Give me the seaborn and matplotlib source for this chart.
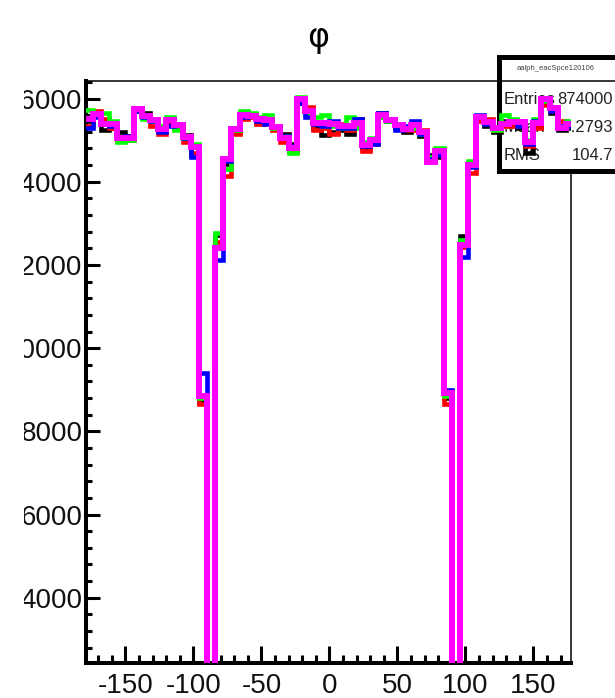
import numpy as np
import pandas as pd
import matplotlib
matplotlib.use("Agg")
import matplotlib.pyplot as plt
import seaborn as sns
from matplotlib.ticker import MultipleLocator, FixedLocator, FormatStrFormatter
from matplotlib.patches import Rectangle
from matplotlib.lines import Line2D

# phi binning: 60 bins of 6 degrees over the full circle
bin_edges = list(range(-180, 181, 6))
bin_centers = [e + 3 for e in bin_edges[:-1]]

counts_black = [
    15450, 15600, 15250, 15300, 15200, 15100, 15780, 15650, 15500, 15300,
    15420, 15300, 15120, 14650, 8700, 0, 12720, 14420, 15200, 15650,
    15620, 15500, 15450, 15350, 15150, 14900, 15900, 15750, 15300, 15120,
    15200, 15250, 15150, 15500, 14800, 14950, 15650, 15450, 15300, 15200,
    15300, 15100, 14650, 14600, 8800, 0, 12700, 14450, 15500, 15350,
    15200, 15450, 15400, 15300, 14700, 15350, 15900, 15650, 15250, 15300,
]
counts_red = [
    15350, 15700, 15500, 15300, 15000, 15000, 15700, 15600, 15350, 15150,
    15450, 15400, 14950, 14700, 8650, 0, 12550, 14150, 15150, 15500,
    15550, 15400, 15500, 15250, 14950, 14750, 15950, 15800, 15250, 15300,
    15150, 15400, 15250, 15350, 14750, 14900, 15550, 15500, 15350, 15250,
    15250, 15250, 14550, 14700, 8650, 0, 12420, 14220, 15450, 15500,
    15250, 15350, 15350, 15400, 14850, 15300, 15850, 15700, 15450, 15350,
]
counts_green = [
    15720, 15650, 15650, 15450, 14950, 15000, 15700, 15520, 15450, 15350,
    15550, 15250, 15050, 14900, 8800, 0, 12780, 14300, 15250, 15700,
    15650, 15550, 15600, 15300, 15100, 14700, 16050, 15650, 15550, 15600,
    15350, 15300, 15550, 15300, 14950, 15050, 15550, 15450, 15400, 15300,
    15300, 15150, 14600, 14800, 8850, 0, 12600, 14500, 15550, 15450,
    15250, 15600, 15500, 15450, 15000, 15500, 15950, 15750, 15300, 15450,
]
counts_blue = [
    15300, 15550, 15400, 15350, 15050, 15100, 15700, 15550, 15450, 15200,
    15350, 15400, 15050, 14600, 9400, 0, 12120, 14500, 15300, 15550,
    15600, 15450, 15400, 15350, 15100, 14850, 15900, 15550, 15400, 15350,
    15450, 15300, 15300, 15500, 14850, 14900, 15650, 15500, 15250, 15350,
    15450, 15150, 14550, 14650, 9000, 0, 12200, 14350, 15600, 15400,
    15300, 15400, 15450, 15350, 14900, 15450, 16000, 15700, 15350, 15350,
]
counts_magenta = [
    15520, 15640, 15380, 15380, 15050, 15050, 15740, 15590, 15480, 15280,
    15480, 15360, 15080, 14840, 8850, 0, 12400, 14550, 15280, 15600,
    15580, 15520, 15480, 15320, 15060, 14820, 16000, 15700, 15420, 15420,
    15380, 15340, 15340, 15420, 14880, 15000, 15600, 15480, 15360, 15260,
    15360, 15200, 14480, 14740, 8920, 0, 12480, 14400, 15560, 15440,
    15290, 15400, 15440, 15440, 14950, 15420, 16000, 15770, 15300, 15400,
]

x_ticks = [-150, -100, -50, 0, 50, 100, 150]
y_ticks = [4000, 6000, 8000, 10000, 12000, 14000, 16000]

stats_title = "aalph_eacSpce120106"
stats_rows = [("Entries", "874000"), ("Mean", "-0.2793"), ("RMS", "104.7")]

sns.set_theme(style="white")
plt.rcParams["font.family"] = ["Liberation Sans", "DejaVu Sans"]
plt.rcParams["axes.unicode_minus"] = False

W, H = 615, 698
fig = plt.figure(figsize=(W / 100, H / 100), dpi=100)
fig.patch.set_facecolor("white")

ax_l, ax_r, ax_t, ax_b = 86, 570.7, 80.7, 663
ax = fig.add_axes([ax_l / W, 1 - ax_b / H, (ax_r - ax_l) / W, (ax_b - ax_t) / H])
ax.set_facecolor("white")

series = [
    (counts_black, "#000000", 3.3, 4),
    (counts_red, "#ff0000", 3.3, 5),
    (counts_green, "#00ff00", 3.3, 6),
    (counts_blue, "#0000ff", 3.3, 7),
    (counts_magenta, "#ff00ff", 4.3, 8),
]
for counts, color, lw, z in series:
    frame = pd.DataFrame({"phi": bin_centers, "entries": counts})
    sns.histplot(
        data=frame, x="phi", weights="entries", bins=bin_edges,
        element="step", fill=False, color=color, linewidth=lw,
        ax=ax, zorder=z, solid_joinstyle="miter",
    )

ax.set_xlim(-179, 177.5)
ax.set_ylim(2430, 16430)
ax.set_xlabel("")
ax.set_ylabel("")

# axis frame: heavy left/bottom axes, thin top/right frame
for side in ("left", "bottom"):
    ax.spines[side].set_linewidth(2.9)
    ax.spines[side].set_color("black")
for side in ("top", "right"):
    ax.spines[side].set_linewidth(1.1)
    ax.spines[side].set_color("black")

ax.xaxis.set_major_locator(FixedLocator(x_ticks))
ax.xaxis.set_minor_locator(MultipleLocator(10))
ax.yaxis.set_major_locator(FixedLocator(y_ticks))
ax.yaxis.set_minor_locator(MultipleLocator(400))
ax.xaxis.set_major_formatter(FormatStrFormatter("%d"))
ax.yaxis.set_major_formatter(FormatStrFormatter("%d"))

ax.tick_params(which="both", bottom=True, left=True, top=False, right=False)
ax.tick_params(axis="x", which="major", direction="in", length=12.5, width=2.2,
               labelsize=20, pad=7, color="black", labelcolor="#111111")
ax.tick_params(axis="x", which="minor", direction="in", length=6, width=2.2, color="black")
ax.tick_params(axis="y", which="major", direction="in", length=10, width=2.2,
               labelsize=20, pad=2.5, color="black", labelcolor="#111111")
ax.tick_params(axis="y", which="minor", direction="in", length=4.5, width=2.2, color="black")
ax.grid(False)

# statistics box (drawn under the histogram lines)
bx_l, bx_r, bx_t, bx_b = 499, 625, 57, 171
box = Rectangle((bx_l / W, 1 - bx_b / H), (bx_r - bx_l) / W, (bx_b - bx_t) / H,
                transform=fig.transFigure, facecolor="white", edgecolor="black",
                linewidth=3.6, zorder=3)
ax.add_artist(box)
box.set_clip_on(False)
sep = Line2D([bx_l / W, bx_r / W], [1 - 80.7 / H] * 2, transform=fig.transFigure,
             color="black", linewidth=1.1, zorder=3)
ax.add_artist(sep)
sep.set_clip_on(False)

t = ax.text(556 / W, 1 - 68.5 / H, stats_title, transform=fig.transFigure,
            ha="center", va="center", fontsize=5.5, color="#444444", zorder=3)
t.set_clip_on(False)
row_y = [100, 128, 156]
for (name, val), yy in zip(stats_rows, row_y):
    t1 = ax.text(504 / W, 1 - yy / H, name, transform=fig.transFigure,
                 ha="left", va="center", fontsize=12, color="#222222", zorder=3)
    t2 = ax.text(613 / W, 1 - yy / H, val, transform=fig.transFigure,
                 ha="right", va="center", fontsize=12, color="#222222", zorder=3)
    t1.set_clip_on(False)
    t2.set_clip_on(False)

fig.text(318 / W, 1 - 38 / H, "φ", ha="center", va="center", fontsize=24,
         family=["DejaVu Sans"], color="black")

# the canvas edge of the neighbouring pad hides the leading digits
fig.add_artist(Rectangle((0, 0), 24 / W, 1, transform=fig.transFigure,
                         facecolor="white", edgecolor="none", zorder=10))

fig.savefig("out.png", dpi=100, facecolor="white")
